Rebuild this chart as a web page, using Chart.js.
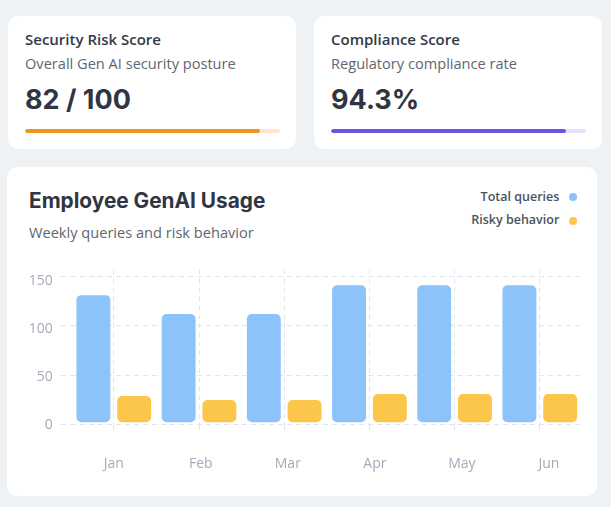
<!DOCTYPE html>
<html><head><meta charset="utf-8">
<script src="https://cdn.jsdelivr.net/npm/chart.js@4.4.1/dist/chart.umd.min.js"></script>
<style>
html,body{margin:0;padding:0;}
body{width:611px;height:507px;background:#eef2f4;position:relative;overflow:hidden;font-family:"Open Sans",sans-serif;}
.card{position:absolute;background:#fff;border-radius:10px;}
.t{position:absolute;white-space:nowrap;line-height:1;}
.ct{font-family:"Open Sans";font-weight:600;font-size:15px;color:#333a46;}
.cs{font-family:"Open Sans";font-weight:400;font-size:14.6px;color:#5f6670;}
.cv{font-family:Inter;font-weight:700;font-size:27px;color:#2f3542;}
.h2{font-family:Inter;font-weight:700;font-size:20.8px;color:#2f3542;}
.track{position:absolute;height:4px;border-radius:2px;overflow:hidden;}
.fill{height:100%;border-radius:2px;}
.lg{position:absolute;font-family:"Open Sans";font-weight:600;font-size:12.5px;color:#4b5360;line-height:1;white-space:nowrap;text-align:right;}
.dot{position:absolute;width:8px;height:8px;border-radius:50%;}
#cv{position:absolute;left:7px;top:252.6px;}
</style></head><body>
<div class="card" style="left:8px;top:16px;width:288px;height:133px"></div>
<div class="card" style="left:314px;top:16px;width:288px;height:133px"></div>
<div class="card" style="left:7px;top:167px;width:590px;height:329px"></div>

<div class="t ct" style="left:25px;top:32px">Security Risk Score</div>
<div class="t cs" style="left:25px;top:56px">Overall Gen AI security posture</div>
<div class="t cv" id="v1" style="left:25px;top:86px"></div>
<div class="track" style="left:25px;top:129px;width:255px;background:#fde6d0"><div class="fill" id="f1" style="background:#ef9421"></div></div>

<div class="t ct" style="left:331px;top:32px">Compliance Score</div>
<div class="t cs" style="left:331px;top:56px">Regulatory compliance rate</div>
<div class="t cv" id="v2" style="left:331px;top:86px"></div>
<div class="track" style="left:331px;top:129px;width:255px;background:#e4e1f8"><div class="fill" id="f2" style="background:#6c53e7"></div></div>

<div class="t h2" style="left:29px;top:190.5px">Employee GenAI Usage</div>
<div class="t cs" style="left:29px;top:225px">Weekly queries and risk behavior</div>
<div id="legend"></div>

<canvas id="cv" width="590" height="243"></canvas>
<script>
// ---- data ----
const securityScoreText = '82 / 100';
const securityBarPct = 92;
const complianceText = '94.3%';
const complianceBarPct = 92;
const months = ['Jan','Feb','Mar','Apr','May','Jun'];
const seriesNames = ['Total queries','Risky behavior'];
const totalQueries = [133,114,114,143,143,143];
const riskyBehavior = [31,27,27,33,33,33];
const yTickValues = [0,50,100,150];
const seriesColors = ['#8cc3fb','#fcc64a'];

document.getElementById('v1').textContent = securityScoreText;
document.getElementById('v2').textContent = complianceText;
document.getElementById('f1').style.width = securityBarPct + '%';
document.getElementById('f2').style.width = complianceBarPct + '%';

const gridColor = '#e1e5ec';
const tickColor = '#a3abb8';
const dash = [5,4];
const setY = s => { s.ticks = yTickValues.map(v => ({value: v})); };

const chart = new Chart(document.getElementById('cv'), {
  type: 'bar',
  data: {
    labels: months,
    datasets: [
      {label: seriesNames[0], data: totalQueries, backgroundColor: seriesColors[0]},
      {label: seriesNames[1], data: riskyBehavior, backgroundColor: seriesColors[1]}
    ].map(d => Object.assign(d, {
      borderColor: 'rgba(0,0,0,0)', borderWidth: 2, borderRadius: 7, borderSkipped: false,
      categoryPercentage: 0.957, barPercentage: 0.93, xAxisID: 'x', yAxisID: 'y'
    }))
  },
  options: {
    responsive: false,
    animation: false,
    layout: {padding: {left: 13.7, right: 14.6, top: 0, bottom: 0.9}},
    plugins: {legend: {display: false}, tooltip: {enabled: false}},
    scales: {
      x: {
        type: 'category', offset: true, weight: 0,
        border: {display: false, dash: dash},
        grid: {offset: false, color: gridColor, tickColor: gridColor, tickLength: 9, tickBorderDash: dash},
        ticks: {display: false}
      },
      x2: {
        type: 'linear', position: 'bottom', weight: 1, min: -0.488, max: 5.384, offset: false,
        border: {display: false},
        grid: {display: false, drawTicks: false, offset: false},
        ticks: {padding: 22.3, color: tickColor, font: {family: 'Open Sans', size: 14}, stepSize: 1,
                autoSkip: false, maxRotation: 0,
                callback: v => months[v] !== undefined ? months[v] : ''},
        afterBuildTicks: s => { s.ticks = months.map((m, i) => ({value: i})); }
      },
      y: {
        min: 0, max: 157, weight: 0,
        border: {display: false, dash: dash},
        grid: {color: gridColor, tickColor: gridColor, tickLength: 10.5, tickBorderDash: dash},
        ticks: {display: false, stepSize: 50},
        afterBuildTicks: setY
      },
      y2: {
        type: 'linear', position: 'left', min: 0, max: 162, weight: 1,
        border: {display: false},
        grid: {display: false, drawTicks: false},
        ticks: {padding: 8, stepSize: 50, color: tickColor, font: {family: 'Open Sans', size: 14}},
        afterBuildTicks: setY
      }
    }
  }
});

// legend built from the chart's datasets
const lg = document.getElementById('legend');
chart.data.datasets.forEach((ds, i) => {
  const cy = 197.3 + i * 23.4;
  const t = document.createElement('div');
  t.className = 'lg';
  t.style.right = (611 - 559.3) + 'px';
  t.style.top = (cy - 6.8) + 'px';
  t.textContent = ds.label;
  lg.appendChild(t);
  const d = document.createElement('div');
  d.className = 'dot';
  d.style.left = '568.7px';
  d.style.top = (cy - 4) + 'px';
  d.style.background = ds.backgroundColor;
  lg.appendChild(d);
});
</script>
</body></html>
